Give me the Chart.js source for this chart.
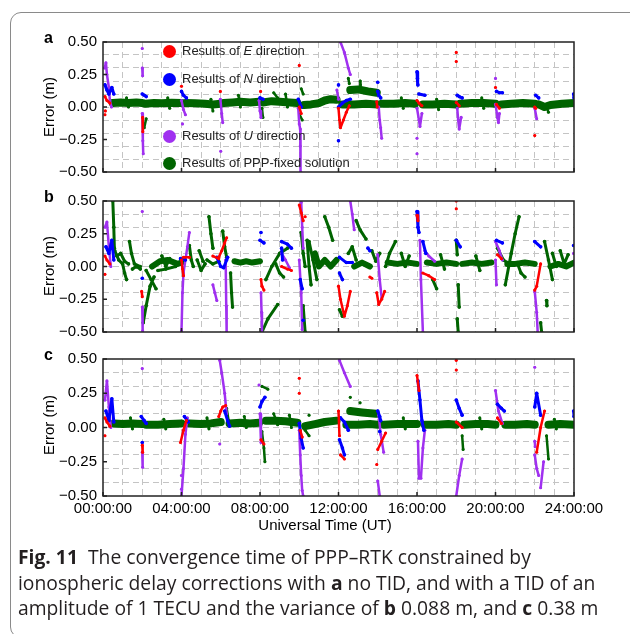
<!DOCTYPE html>
<html>
<head>
<meta charset="utf-8">
<script src="https://cdn.jsdelivr.net/npm/chart.js@4.4.1/dist/chart.umd.min.js"></script>
<style>
  body { margin: 0; width: 630px; height: 634px; background: #fff; position: relative; overflow: hidden;
         font-family: "Liberation Sans", Arial, sans-serif; color: #000; }
  canvas { position: absolute; left: 0; }
  .frame { position: absolute; left: 10px; top: 12px; width: 700px; height: 624px;
           border: 1.3px solid #8a8a8a; border-radius: 11px; }
  .lab { position: absolute; font-weight: bold; font-size: 16px; line-height: 16px; }
  .ytitle { position: absolute; font-size: 15px; white-space: nowrap; transform: translate(-50%, -50%) rotate(-90deg); }
  .leg { position: absolute; font-size: 13px; line-height: 14px; white-space: nowrap; color: #222; }
  .dot { position: absolute; width: 13px; height: 13px; border-radius: 50%; }
  #xtitle { position: absolute; left: 325px; top: 516px; transform: translateX(-50%); font-size: 15px; white-space: nowrap; }
  #cap { position: absolute; left: 18px; top: 544px; font-family: "Open Sans", "Noto Sans", sans-serif;
         font-size: 19.3px; line-height: 25.5px; white-space: nowrap; color: #231f20; }
</style>
</head>
<body>
<div class="frame"></div>
<canvas id="pa" width="630" height="160" style="top:27px"></canvas>
<canvas id="pb" width="630" height="161" style="top:186px"></canvas>
<canvas id="pc" width="630" height="190" style="top:344px"></canvas>

<div class="lab" style="left:44px;top:30px">a</div>
<div class="lab" style="left:44px;top:189px">b</div>
<div class="lab" style="left:44px;top:347px">c</div>
<div class="ytitle" style="left:48px;top:107px">Error (m)</div>
<div class="ytitle" style="left:48px;top:266px">Error (m)</div>
<div class="ytitle" style="left:48px;top:425px">Error (m)</div>

<div class="dot" style="left:163px;top:45px;background:#ff0000"></div>
<div class="leg" style="left:182px;top:44px">Results of <i>E</i> direction</div>
<div class="dot" style="left:163px;top:73px;background:#0000ff"></div>
<div class="leg" style="left:182px;top:72px">Results of <i>N</i> direction</div>
<div class="dot" style="left:163px;top:130px;background:#a030f0"></div>
<div class="leg" style="left:182px;top:129px">Results of <i>U</i> direction</div>
<div class="dot" style="left:163px;top:157px;background:#006400"></div>
<div class="leg" style="left:182px;top:156px">Results of PPP-fixed solution</div>

<div id="xtitle">Universal Time (UT)</div>
<div id="cap"><b>Fig. 11</b>&nbsp; The convergence time of PPP–RTK constrained by<br>ionospheric delay corrections with <b>a</b> no TID, and with a TID of an<br>amplitude of 1 TECU and the variance of <b>b</b> 0.088 m, and <b>c</b> 0.38 m</div>

<script>
// tick labels
var xTicks = [0, 4, 8, 12, 16, 20, 24];
var xTickLabels = ['00:00:00', '04:00:00', '08:00:00', '12:00:00', '16:00:00', '20:00:00', '24:00:00'];
var yTicks = [-0.5, -0.25, 0, 0.25, 0.5];
var yTickLabels = ['\u22120.50', '\u22120.25', '0.00', '0.25', '0.50'];

// each series is a list of segments, each segment a list of [hour, error m]
// ---- panel a: no TID
var aE = [[[0.1,0.08],[0.2,0.05],[0.35,0.03]], [[0.1,-0.06]], [[0.12,-0.03]], [[2.02,-0.08],[2.03,-0.19]],
  [[4.0,0.16]], [[5.98,0.12]], [[8.03,0.12]], [[10.0,0.32]], [[10.0,0.0],[10.1,-0.05]],
  [[12.0,-0.01],[12.05,-0.1],[12.1,-0.16],[12.25,-0.1],[12.4,-0.04],[12.55,0.01]],
  [[13.95,0.04],[13.97,0.0]], [[16.0,0.05],[16.1,0.03],[16.25,0.01]], [[18.0,0.42]], [[18.0,0.35]],
  [[18.0,0.035],[18.15,0.01]], [[20.0,0.15]], [[20.05,0.02],[20.2,-0.01]], [[22.0,-0.22]], [[22.0,0.0],[22.05,-0.01]]];
var aN = [[[0.1,0.17],[0.2,0.13],[0.3,0.1],[0.45,0.15],[0.55,0.1]], [[2.0,0.1],[2.1,0.09],[2.2,0.08]],
  [[4.0,0.12],[4.1,0.09],[4.25,0.07]], [[8.0,0.07],[8.15,0.06]], [[9.95,0.06],[10.1,0.0]],
  [[12.0,0.0],[12.2,0.03],[12.4,0.05],[12.6,0.06]], [[12.0,0.17]], [[12.0,-0.26]],
  [[14.0,0.12],[14.05,0.09],[14.15,0.07]], [[14.0,0.19]], [[16.0,0.27],[16.02,0.22],[16.05,0.17]],
  [[16.1,0.1],[16.4,0.09]], [[18.05,0.09],[18.15,0.08],[18.3,0.07]], [[20.05,0.12],[20.2,0.11],[20.35,0.11]],
  [[22.05,0.09],[22.2,0.07]], [[23.98,0.1],[24,0.07]]];
var aU = [[[0.08,0.3],[0.15,0.34],[0.2,0.25],[0.3,0.15],[0.35,0.05],[0.43,0.0]], [[2.0,0.45]],
  [[2.0,0.3],[2.02,0.24]], [[2.0,-0.05],[2.03,-0.26],[2.05,-0.36]], [[4.0,0.05],[4.1,-0.02],[4.2,-0.06]], [[4.05,-0.13]],
  [[5.98,0.06],[6.05,-0.05],[6.1,-0.12]], [[6.0,-0.34]], [[7.95,0.05],[8.0,-0.03],[8.05,-0.08]],
  [[9.95,-0.01],[10.0,-0.13],[10.05,-0.17],[10.05,-0.3],[10.08,-0.5]], [[11.92,0.13],[12.0,0.06]],
  [[12.1,0.5],[12.3,0.42],[12.5,0.3],[12.6,0.25]], [[14.05,0.0],[14.1,-0.1],[14.15,-0.16],[14.2,-0.24]],
  [[16.0,-0.01],[16.1,-0.1],[16.15,-0.15],[16.25,-0.05]], [[16.0,-0.24]], [[16.0,-0.36]],
  [[18.05,-0.01],[18.1,-0.1],[18.15,-0.17],[18.25,-0.08]], [[20.0,0.22]],
  [[20.0,0.02],[20.1,-0.08],[20.15,-0.12],[20.2,-0.05]], [[22.0,-0.01],[22.1,-0.09]]];
var aG = [[[0.5,0.03],[0.9,0.035],[1.3,0.03],[1.7,0.035],[2.0,0.03]],
  [[2.15,0.025],[2.6,0.03],[3.0,0.028],[3.5,0.032],[4.0,0.03]],
  [[4.2,0.03],[4.7,0.028],[5.2,0.025],[5.6,0.02],[6.0,0.025]],
  [[6.15,0.03],[6.6,0.035],[7.0,0.04],[7.5,0.035],[7.95,0.04]],
  [[8.15,0.035],[8.6,0.045],[9.0,0.04],[9.5,0.035],[9.9,0.03]],
  [[10.25,0.015],[10.6,0.02],[11.0,0.03],[11.3,0.05],[11.6,0.06],[11.9,0.055]],
  [[12.2,0.02],[12.8,0.02],[13.4,0.025],[14.0,0.02]], [[12.6,0.13],[13.0,0.135],[13.5,0.12],[13.95,0.11]],
  [[14.2,0.025],[14.8,0.025],[15.4,0.03],[15.9,0.025]], [[16.3,0.02],[16.8,0.02],[17.4,0.025],[18.0,0.02]],
  [[18.2,0.025],[18.8,0.03],[19.4,0.03],[20.0,0.025]], [[20.3,0.02],[20.8,0.025],[21.4,0.03],[22.0,0.025]],
  [[22.2,0.02],[22.5,0.0],[22.8,0.015],[23.4,0.025],[24,0.03]]];
var aGs = [[[2.1,-0.16],[2.2,-0.09]], [[8.1,-0.01],[8.15,-0.08]], [[8.7,0.11],[8.9,0.07]], [[10.1,0.14],[10.2,0.1]],
  [[10.02,-0.06],[10.15,-0.1]], [[12.5,0.22],[12.55,0.18]], [[13.1,0.2],[13.12,0.17]],
  [[1.2,0.07],[1.3,0.0]], [[3.3,0.07],[3.4,-0.01]], [[5.5,0.06],[5.6,-0.03]], [[6.9,0.09],[7.0,0.0]],
  [[9.3,0.1],[9.4,0.0]], [[15.2,0.07],[15.3,-0.01]], [[17.0,0.06],[17.1,-0.02]], [[19.3,0.07],[19.4,-0.01]],
  [[22.6,0.0],[22.7,-0.04]]];

// ---- panel b: TID, variance 0.088 m
var bE = [[[0.1,0.08],[0.2,0.05],[0.35,0.02]], [[0.1,-0.06]], [[1.97,-0.19],[2.0,-0.23]],
  [[4.0,0.05],[4.05,-0.02],[4.1,-0.07]], [[4.1,0.07],[4.4,0.07]], [[5.6,0.08],[5.9,0.06]],
  [[5.9,0.07],[6.05,0.12],[6.2,0.18],[6.3,0.22]], [[8.05,-0.1],[8.1,-0.15],[8.2,-0.18]],
  [[9.1,0.0],[9.4,-0.02],[9.6,-0.03]], [[10.0,0.47],[10.1,0.41],[10.2,0.35]], [[10.3,0.38]],
  [[12.0,-0.15],[12.1,-0.25],[12.3,-0.38],[12.45,-0.3],[12.6,-0.19]], [[13.6,-0.08],[13.7,-0.09]],
  [[13.95,-0.2],[14.05,-0.29],[14.2,-0.25],[14.35,-0.19]], [[16.0,0.39],[16.05,0.35]],
  [[16.3,-0.05],[16.6,-0.07],[16.9,-0.1]], [[18.0,0.5]], [[18.0,0.44]], [[20.1,0.09],[20.3,0.06]],
  [[22.0,-0.18],[22.1,-0.15],[22.3,0.02]]];
var bN = [[[0.15,0.15],[0.3,0.1],[0.45,0.2],[0.55,0.05]], [[2.0,-0.09]], [[3.95,0.06],[4.2,0.05]],
  [[5.8,0.07],[6.0,0.0],[6.15,-0.01],[6.3,0.05],[6.35,0.07]], [[8.0,0.2],[8.2,0.18]], [[8.05,0.26]],
  [[9.1,0.19],[9.4,0.17],[9.6,0.14]], [[9.1,0.14],[9.15,0.05]], [[10.05,-0.1],[10.15,-0.17]], [[10.2,-0.41]],
  [[12.05,0.07],[12.4,0.03],[12.7,0.03]], [[12.05,-0.05],[12.2,-0.1]], [[13.5,0.14],[13.6,0.12]],
  [[16.0,0.42],[16.05,0.3],[16.1,0.26]], [[16.3,0.19],[16.45,0.1]], [[18.0,0.2],[18.2,0.15]],
  [[20.05,0.2],[20.35,0.18]], [[22.0,0.19],[22.3,0.15]], [[23.98,0.16]]];
var bU = [[[0.1,0.3],[0.2,0.34],[0.3,0.15],[0.4,0.0]], [[2.0,0.42]], [[2.0,-0.31],[2.02,-0.49]],
  [[4.0,-0.49],[4.05,-0.2],[4.1,-0.05],[4.3,0.15],[4.4,0.26]], [[5.6,-0.14],[5.7,-0.2],[5.8,-0.26]],
  [[6.25,0.05],[6.28,-0.3],[6.3,-0.5]], [[8.05,-0.2],[8.08,-0.35],[8.1,-0.5]], [[9.1,0.1],[9.3,0.05],[9.5,-0.01]],
  [[10.1,0.49],[10.15,0.3],[10.2,0.14]], [[10.0,0.05],[10.1,-0.2],[10.15,-0.48]],
  [[12.6,0.5],[12.7,0.4],[12.8,0.28]], [[14.0,0.09],[14.1,-0.1],[14.2,-0.24]],
  [[16.15,0.2],[16.2,-0.1],[16.3,-0.5]], [[16.4,0.12],[16.6,0.08],[16.9,0.04]],
  [[20.0,0.19],[20.2,0.12],[20.35,0.05]], [[20.0,0.05],[20.05,-0.14]], [[22.0,-0.19],[22.1,-0.35],[22.15,-0.5]],
  [[23.98,0.1]]];
var bG = [[[2.5,0.0],[2.9,0.04],[3.3,0.05],[3.8,0.02],[4.0,0.03]], [[6.7,0.04],[7.0,0.03],[7.3,0.04],[7.6,0.03],[8.0,0.04]],
  [[10.8,0.1],[11.0,0.0],[11.3,0.05],[11.6,0.0],[11.9,0.05]], [[12.8,0.0],[13.2,0.03],[13.6,0.0]],
  [[14.5,0.03],[15.0,0.02],[15.5,0.03],[16.0,0.02]], [[16.5,0.03],[17,0.02],[17.5,0.03],[18,0.02]],
  [[18.3,0.02],[18.8,0.03],[19.3,0.02],[19.8,0.03]], [[20.6,0.02],[21,0.02],[21.5,0.03],[22,0.02]],
  [[22.8,0.0],[23.2,0.02],[23.6,0.0],[24,0.03]]];
var bGs = [[[0.5,0.5],[0.55,0.3],[0.58,0.14]], [[0.6,0.12],[0.8,0.05],[1.0,0.02],[1.1,-0.05],[1.2,-0.1]],
  [[0.7,0.08],[0.9,0.1],[1.1,0.04],[1.3,0.02]], [[1.35,0.19],[1.45,0.1],[1.6,0.02],[1.9,0.0]],
  [[1.5,-0.02],[1.7,0.0],[1.9,-0.02]], [[2.05,-0.43],[2.2,-0.3],[2.4,-0.15],[2.6,-0.08]],
  [[2.2,-0.03],[2.45,-0.1],[2.7,-0.17]], [[2.8,-0.03],[3.2,-0.02],[3.7,0.0]], [[4.4,0.16],[4.5,0.05],[4.6,0.0]],
  [[4.8,0.05],[5.0,-0.03],[5.2,0.02]], [[5.4,0.38],[5.5,0.25],[5.6,0.14]], [[5.3,0.05],[5.6,0.02],[5.9,0.04]],
  [[6.1,0.27],[6.2,0.15],[6.3,0.07]], [[6.5,-0.05],[6.55,-0.2],[6.6,-0.31]],
  [[8.1,-0.5],[8.4,-0.4],[8.9,-0.29]], [[8.3,-0.1],[8.6,0.0],[9.0,0.1],[9.4,0.14]], [[8.8,0.02],[9.0,-0.05],[9.2,-0.08]],
  [[10.1,0.26],[10.2,0.1],[10.3,0.0]], [[10.4,0.2],[10.5,0.0],[10.6,-0.14]], [[10.2,-0.3],[10.3,-0.5]],
  [[10.5,0.19],[10.7,0.05],[10.9,-0.1]], [[11.3,0.38],[11.5,0.3],[11.7,0.2]], [[12.05,-0.33],[12.2,-0.38]],
  [[12.9,0.35],[13.1,0.28],[13.4,0.21]], [[14.4,0.0],[14.6,0.1],[14.9,0.19]], [[16.8,-0.1],[17.0,-0.17]],
  [[18.1,-0.14],[18.15,-0.31]], [[18.05,-0.4],[18.1,-0.5]], [[18.0,0.2],[18.05,0.09]],
  [[20.5,-0.14],[20.8,0.1],[21.0,0.25],[21.2,0.38]], [[20.1,0.14],[20.4,0.05],[20.6,0.03]],
  [[21.1,0.03],[21.3,-0.05],[21.5,-0.08]], [[22.3,-0.43],[22.35,-0.5]], [[22.6,-0.26],[22.62,-0.3]],
  [[22.5,0.19],[22.7,0.05],[22.9,-0.1]], [[22.9,0.1],[23.1,0.0]],
  [[3.0,0.08],[3.2,0.0],[3.4,0.06]], [[12.5,0.1],[12.7,0.15],[12.9,0.05]], [[13.7,0.12],[13.9,0.04],[14.1,0.1]],
  [[15.2,0.1],[15.4,0.0],[15.6,0.08]], [[17.2,0.09],[17.4,-0.02]], [[19.0,0.08],[19.2,-0.03]],
  [[23.3,0.12],[23.5,0.02],[23.7,0.09]], [[4.9,0.12],[5.1,0.04]]];

// ---- panel c: TID, variance 0.38 m
var cE = [[[0.1,0.07],[0.2,0.04],[0.35,0.01]], [[0.1,-0.06]], [[2.0,-0.13],[2.02,-0.18]],
  [[3.95,-0.11],[4.1,-0.02],[4.25,0.05]], [[5.9,0.08],[6.0,0.12],[6.1,0.15],[6.25,0.16]],
  [[8.05,-0.09],[8.2,-0.12]], [[10.0,0.36]], [[10.0,0.25]], [[10.05,-0.02],[10.15,-0.07]],
  [[12.0,0.12],[12.05,-0.06]], [[12.1,-0.2],[12.3,-0.23]], [[14.0,-0.16],[14.2,-0.1],[14.4,-0.04]], [[13.95,-0.27]],
  [[16.0,0.38],[16.1,0.27]], [[18.0,0.42]], [[18.0,0.49]], [[18.0,0.04],[18.3,0.0]], [[20.1,0.07],[20.3,0.03]],
  [[22.1,-0.18],[22.3,0.0],[22.5,0.12]]];
var cN = [[[0.15,0.12],[0.3,0.05],[0.45,0.21],[0.55,0.04]], [[1.95,0.08],[2.1,0.05],[2.2,0.03]], [[2.0,-0.11]],
  [[4.15,0.08],[4.35,0.04]], [[6.2,0.12],[6.35,0.05],[6.45,0.01]], [[8.0,0.15],[8.1,0.19],[8.25,0.22]],
  [[10.0,0.03],[10.1,-0.08],[10.2,-0.15]], [[12.05,-0.09],[12.2,-0.15],[12.3,-0.2]],
  [[12.1,0.07],[12.3,0.04],[12.5,-0.02]], [[14.0,0.12],[14.1,0.08],[14.15,0.05]], [[14.1,-0.03]],
  [[16.05,0.34],[16.15,0.2],[16.25,0.05],[16.35,-0.02]], [[18.0,0.2],[18.15,0.14],[18.3,0.09]],
  [[20.1,0.17],[20.3,0.14],[20.45,0.12]], [[22.0,0.15],[22.1,0.25],[22.3,0.09]], [[23.98,0.12],[24,0.08]]];
var cU = [[[0.1,0.2],[0.2,0.34],[0.3,0.15],[0.4,0.0]], [[2.0,0.43]], [[2.0,-0.18],[2.02,-0.29]],
  [[4.0,-0.5],[4.1,-0.3],[4.2,-0.05],[4.3,0.07]], [[4.0,-0.35]], [[4.0,-0.45]],
  [[5.95,0.49],[6.05,0.4],[6.2,0.25],[6.3,0.1]], [[5.95,-0.12]], [[7.95,0.31]], [[8.0,0.1],[8.05,-0.11]],
  [[10.0,-0.02],[10.05,-0.2],[10.1,-0.35],[10.15,-0.46],[10.2,-0.5]], [[12.05,0.49],[12.3,0.4],[12.6,0.3]],
  [[14.05,0.09],[14.15,-0.05],[14.3,-0.18]], [[14.0,-0.39],[14.1,-0.5]], [[16.05,-0.1],[16.1,-0.37]],
  [[16.2,-0.37],[16.3,-0.15],[16.4,-0.02]], [[18.0,-0.5],[18.15,-0.35],[18.3,-0.23]],
  [[20.0,0.27],[20.15,0.12],[20.35,0.03]], [[22.0,0.44]], [[22.0,-0.2],[22.1,-0.3],[22.2,-0.35]],
  [[22.3,-0.44],[22.45,-0.25]], [[22.0,-0.1],[22.02,-0.14]]];
var cG = [[[0.55,0.03],[1.0,0.025],[1.5,0.03],[2.0,0.025]], [[2.2,0.02],[2.8,0.02],[3.4,0.025],[4.0,0.03]],
  [[4.4,0.03],[5.0,0.025],[5.5,0.03],[6.0,0.04]], [[6.45,0.03],[7.0,0.035],[7.5,0.03],[7.95,0.035]],
  [[8.3,0.05],[8.8,0.05],[9.3,0.045],[9.9,0.035]], [[10.3,0.01],[10.8,0.025],[11.3,0.04],[11.9,0.05]],
  [[12.4,0.02],[13.0,0.02],[13.6,0.025],[14.0,0.02]], [[12.6,0.12],[13.2,0.11],[13.9,0.1]],
  [[14.3,0.02],[15.0,0.025],[15.6,0.025],[16.0,0.025]], [[16.4,0.02],[17.0,0.02],[17.6,0.025],[18.0,0.02]],
  [[18.4,0.02],[19.0,0.025],[19.6,0.025],[20.0,0.02]], [[20.5,0.02],[21.0,0.02],[21.6,0.025],[22.0,0.02]],
  [[22.7,0.02],[23.3,0.025],[24,0.02]]];
var cGs = [[[6.3,0.14],[6.4,0.05]], [[8.1,0.3],[8.4,0.28]], [[8.1,-0.03],[8.2,-0.15],[8.25,-0.25]],
  [[10.3,-0.02],[10.5,-0.06]], [[10.5,0.09]], [[12.6,0.22]], [[13.1,0.18]], [[18.3,-0.06],[18.35,-0.16]],
  [[22.6,-0.06],[22.7,-0.23]], [[1.4,0.07],[1.5,-0.01]], [[3.1,0.06],[3.2,-0.01]], [[5.3,0.07],[5.4,-0.01]],
  [[7.2,0.08],[7.3,0.0]], [[8.7,0.1],[8.9,0.02]], [[9.5,0.09],[9.6,0.0]], [[15.3,0.07],[15.4,-0.01]],
  [[19.2,0.07],[19.3,-0.01]], [[23.0,0.06],[23.1,-0.01]]];

var RED = '#ff0000', BLUE = '#0000ff', PURPLE = '#a030f0', GREEN = '#006400';

Chart.defaults.font.family = '"Liberation Sans", Arial, sans-serif';
Chart.defaults.font.size = 15;
Chart.defaults.color = '#000';

function toPoints(segs) {
    var out = [];
    segs.forEach(function (s) {
        s.forEach(function (p) { out.push({x: p[0], y: p[1]}); });
        out.push({x: s[s.length - 1][0], y: null});
    });
    return out;
}

function series(segs, color, width, order) {
    return {
        data: toPoints(segs), showLine: true, spanGaps: false,
        borderColor: color, backgroundColor: color, borderWidth: width,
        borderJoinStyle: 'round', borderCapStyle: 'round',
        pointRadius: Math.min(width / 2 + 0.3, 2), pointBorderWidth: 0, order: order
    };
}

function near(a, b) { return Math.abs(a - b) < 1e-6; }

// box round the plot and inward ticks
var boxPlugin = {
    id: 'box',
    afterDraw: function (chart) {
        var a = chart.chartArea, ctx = chart.ctx;
        var xs = chart.scales.x, ys = chart.scales.y;
        ctx.save();
        ctx.strokeStyle = '#222';
        ctx.lineWidth = 1.5;
        ctx.strokeRect(a.left, a.top, a.right - a.left, a.bottom - a.top);
        ctx.beginPath();
        xTicks.forEach(function (t) {
            var px = xs.getPixelForValue(t);
            ctx.moveTo(px, a.bottom); ctx.lineTo(px, a.bottom - 4);
        });
        yTicks.forEach(function (t) {
            var py = ys.getPixelForValue(t);
            ctx.moveTo(a.left, py); ctx.lineTo(a.left + 4, py);
        });
        ctx.stroke();
        ctx.restore();
    }
};

function makePanel(id, E, N, U, G, Gs, bandWidth, strokeWidth, showX) {
    return new Chart(document.getElementById(id), {
        type: 'scatter',
        data: {
            datasets: [
                series(E, RED, 2.5, 0),
                series(N, BLUE, 3, 1),
                series(U, PURPLE, 2.5, 2),
                series(Gs, GREEN, strokeWidth, 3),
                series(G, GREEN, bandWidth, 4)
            ]
        },
        options: {
            responsive: false,
            animation: false,
            layout: {padding: {top: 10, right: 56, bottom: showX ? 8 : 10, left: 0}},
            plugins: {legend: {display: false}, tooltip: {enabled: false}},
            scales: {
                x: {
                    type: 'linear', min: 0, max: 24,
                    afterFit: function (s) { s.height = showX ? 30 : 0; },
                    ticks: {
                        stepSize: 1, autoSkip: false, maxRotation: 0, display: showX, padding: 4,
                        callback: function (v) {
                            var i = xTicks.indexOf(v);
                            return i >= 0 ? xTickLabels[i] : '';
                        }
                    },
                    grid: {
                        drawTicks: false, lineWidth: 1,
                        color: function (c) {
                            var v = c.tick ? c.tick.value : 0;
                            return (v > 0 && v < 24) ? '#c4c4c4' : 'rgba(0,0,0,0)';
                        }
                    },
                    border: {display: false, dash: [6, 4]}
                },
                y: {
                    min: -0.5, max: 0.5,
                    afterFit: function (s) { s.width = 103; },
                    ticks: {
                        stepSize: 0.05, autoSkip: false, padding: 6,
                        callback: function (v) {
                            for (var i = 0; i < yTicks.length; i++) {
                                if (near(yTicks[i], v)) return yTickLabels[i];
                            }
                            return '';
                        }
                    },
                    grid: {
                        drawTicks: false, lineWidth: 1,
                        color: function (c) {
                            var v = c.tick ? c.tick.value : 0;
                            var tenth = near(Math.round(v * 10), v * 10);
                            return (tenth && Math.abs(v) < 0.45) ? '#c4c4c4' : 'rgba(0,0,0,0)';
                        }
                    },
                    border: {display: false, dash: [6, 4]}
                }
            }
        },
        plugins: [boxPlugin]
    });
}

makePanel('pa', aE, aN, aU, aG, aGs, 8, 2.5, false);
makePanel('pb', bE, bN, bU, bG, bGs, 6, 3, false);
makePanel('pc', cE, cN, cU, cG, cGs, 8, 2.5, true);
</script>
</body>
</html>
